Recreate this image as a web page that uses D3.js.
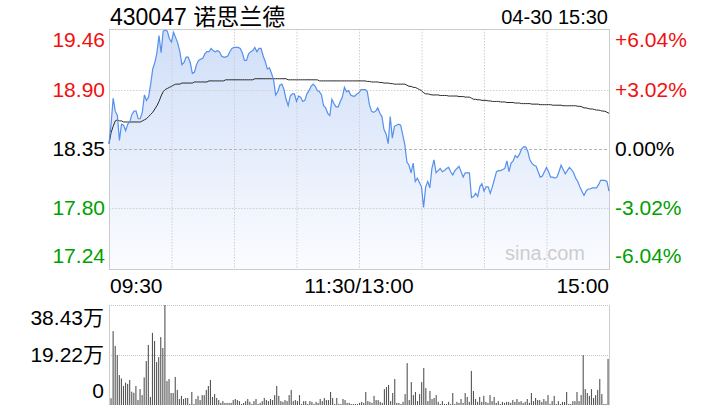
<!DOCTYPE html>
<html><head><meta charset="utf-8">
<script src="https://cdn.jsdelivr.net/npm/d3@7"></script>
<style>
body{margin:0;background:#fff}
svg{display:block}
text{font-family:"Liberation Sans",Arial,"Noto Sans CJK SC",sans-serif}
</style>
</head><body>
<svg id="c" width="720" height="420"></svg>
<script>
const title = "430047 诺思兰德";
const stamp = "04-30 15:30";
const watermark = "sina.com";
const priceTicks = [19.46, 18.90, 18.35, 17.80, 17.24];
const priceTickLabels = ["19.46", "18.90", "18.35", "17.80", "17.24"];
const pctTickLabels = ["+6.04%", "+3.02%", "0.00%", "-3.02%", "-6.04%"];
const tickColors = ["#f01010", "#f01010", "#000000", "#00a000", "#00a000"];
const timeLabels = ["09:30", "11:30/13:00", "15:00"];
const timeLabelMinutes = [0, 120, 240];
const gridMinutes = [30, 60, 90, 120, 150, 180, 210];
const volTicks = [38.43, 19.22, 0];
const volTickLabels = ["38.43万", "19.22万", "0"];

// minute prices 09:30-11:30 (121 points) and 13:01-15:00 (120 points)
const priceAM = [18.40,18.58,18.82,18.70,18.66,18.43,18.58,18.57,18.52,18.58,
18.60,18.67,18.70,18.70,18.63,18.63,18.69,18.85,18.80,18.83,
18.95,19.09,19.15,19.24,19.40,19.24,19.44,19.45,19.44,19.37,
19.34,19.43,19.38,19.33,19.25,19.13,19.15,19.20,19.20,19.15,
19.05,19.06,19.13,19.17,19.18,19.19,19.23,19.25,19.25,19.28,
19.26,19.25,19.26,19.25,19.21,19.20,19.20,19.21,19.25,19.28,
19.29,19.29,19.29,19.28,19.24,19.17,19.17,19.23,19.25,19.26,
19.29,19.25,19.28,19.28,19.21,19.16,19.09,19.10,19.05,18.99,
18.85,18.88,18.94,18.95,18.90,18.81,18.75,18.84,18.86,18.86,
18.79,18.84,18.83,18.79,18.80,18.86,18.89,18.93,18.95,18.93,
18.89,18.88,18.85,18.75,18.73,18.68,18.66,18.81,18.77,18.74,
18.74,18.79,18.83,18.92,18.88,18.89,18.85,18.84,18.84,18.86,
18.87];
const pricePM = [18.90,18.90,18.90,18.88,18.76,18.70,18.69,18.70,18.73,18.68,
18.65,18.53,18.49,18.40,18.65,18.45,18.56,18.57,18.58,18.57,
18.48,18.39,18.23,18.20,18.13,18.22,18.05,18.08,18.04,18.00,
17.81,18.00,18.05,17.99,18.17,18.25,18.13,18.15,18.17,18.14,
18.15,18.17,18.18,18.14,18.11,18.15,18.17,18.19,18.14,18.09,
18.13,18.13,18.13,17.90,17.91,17.94,17.91,18.00,18.03,17.96,
18.00,18.00,17.94,18.00,18.07,18.14,18.15,18.15,18.16,18.17,
18.24,18.14,18.22,18.24,18.29,18.27,18.30,18.35,18.37,18.37,
18.33,18.25,18.22,18.20,18.19,18.14,18.09,18.10,18.14,18.18,
18.14,18.09,18.09,18.08,18.09,18.14,18.20,18.16,18.12,18.15,
18.18,18.16,18.13,18.08,18.05,18.00,17.96,17.92,17.96,17.98,
17.98,17.99,17.99,17.99,18.02,18.06,18.06,18.06,18.05,17.96];

// average price line
const avgAM = [18.40,18.50,18.56,18.61,18.62,18.61,18.61,18.60,18.60,18.60,
18.60,18.60,18.60,18.60,18.60,18.60,18.61,18.62,18.63,18.65,
18.67,18.69,18.72,18.75,18.79,18.84,18.88,18.90,18.91,18.92,
18.93,18.94,18.95,18.95,18.95,18.96,18.96,18.96,18.96,18.96,
18.96,18.97,18.97,18.97,18.97,18.97,18.97,18.97,18.98,18.98,
18.98,18.98,18.98,18.98,18.98,18.98,18.99,18.99,18.99,18.99,
18.99,18.99,18.99,18.99,18.99,18.99,18.99,18.99,18.99,18.99,
19.00,19.00,19.00,19.00,19.00,19.00,19.00,19.00,19.00,19.00,
19.00,19.00,19.00,19.00,19.00,19.00,18.99,18.99,18.99,18.99,
18.99,18.99,18.99,18.99,18.99,18.99,18.99,18.99,18.99,18.99,
18.99,18.98,18.98,18.98,18.98,18.98,18.98,18.98,18.98,18.98,
18.98,18.98,18.98,18.98,18.98,18.98,18.98,18.98,18.98,18.98,
18.98];
const avgPM = [18.98,18.98,18.98,18.975,18.975,18.97,18.97,18.97,
18.97,18.965,18.965,18.96,18.96,18.96,18.955,
18.955,18.95,18.95,18.95,18.95,18.95,18.95,
18.94,18.93,18.93,18.92,18.92,18.91,18.90,18.89,18.87,18.86,18.86,18.855,
18.85,18.85,18.85,18.85,18.845,18.845,18.845,18.845,18.84,18.84,
18.84,18.84,18.84,18.835,18.835,18.835,18.83,18.83,18.83,
18.82,18.81,
18.81,18.805,18.805,18.80,18.80,18.80,18.795,18.795,
18.79,18.79,18.79,18.79,18.785,18.785,18.785,18.78,18.78,18.78,18.78,18.775,18.775,18.775,18.77,
18.77,18.77,18.77,18.77,18.765,18.765,18.765,18.765,18.76,18.76,18.76,18.76,18.76,18.76,
18.755,18.755,18.755,18.755,18.755,18.75,18.75,18.75,18.75,18.75,18.75,18.75,18.745,18.745,
18.74,18.73,
18.73,18.725,18.72,18.72,18.715,18.71,18.71,18.705,
18.70,18.70,18.69,18.68];

// minute volume, in 万
const volAM = [2.6,28.4,22.7,19.2,11.5,10.2,7.3,8.6,8.1,9.6,
5.1,4.7,7.3,1.9,6.1,3.8,10.6,16.9,23.1,3.1,
27.7,24.6,16.5,18.4,26.1,21.9,38.43,9.2,10.0,4.6,
4.6,10.8,5.8,2.3,3.5,2.3,2.7,2.7,0.4,5.0,
0.4,2.3,3.5,1.9,3.8,3.8,5.8,7.3,9.6,3.1,
4.2,2.7,1.9,0.8,1.5,0.8,0.8,0.8,0.8,
1.9,2.3,1.9,1.5,0.4,0.8,1.5,2.3,1.2,0.4,
1.5,2.3,0.4,0.8,1.5,2.7,1.9,1.5,2.3,1.9,
3.8,7.3,3.5,1.5,1.2,1.9,1.5,3.8,5.8,
1.5,1.9,1.5,3.8,0.4,1.5,1.5,0.4,1.5,1.2,
0.4,1.2,0.8,2.3,1.5,2.7,1.9,1.9,5.0,
2.7,0.4,2.7,0.4,0.4,2.3,1.9,0.8,0.8,0.4,
0.4,0.4,0.4,0.8];
const volPM = [1.2,0.8,5.0,1.5,1.2,0.8,3.5,1.9,1.9,1.2,
0.8,6.1,6.9,7.7,1.5,4.6,10.0,0.8,0.8,0.4,
1.2,4.2,16.1,1.9,8.8,3.8,5.0,1.5,4.2,8.8,
14.2,6.5,1.5,5.4,2.3,2.7,3.8,1.2,0.4,1.5,
0.4,0.4,1.2,0.4,4.6,0.4,1.2,0.8,2.3,0.8,
4.6,3.1,1.2,13.1,5.4,2.3,1.2,3.1,1.2,3.5,
1.2,0.8,3.8,1.5,3.1,0.8,1.5,0.4,1.2,0.8,
1.2,1.2,0.8,1.9,1.2,2.3,1.2,1.5,0.8,1.2,
2.3,0.8,4.6,1.5,2.7,1.9,1.9,1.2,2.3,1.5,
3.8,0.4,1.5,3.5,0.4,1.5,0.4,1.2,1.2,
5.0,0.4,0.4,1.5,1.5,5.0,1.5,3.8,19.2,
6.1,4.6,3.5,6.1,2.7,3.8,5.8,10.0,4.2,0.4,
0.4,17.7];

const prices = priceAM.concat(pricePM);
const avgs = avgAM.concat(avgPM);
const vols = volAM.concat(volPM);
const series = prices.map((p, i) => ({i, p, a: avgs[i], v: vols[i]}));

const svg = d3.select("#c");
const L = 109, R = 609, T = 29, B = 269, VT = 305, VB = 405;
const x = d3.scaleLinear().domain([0, 240]).range([L, R]);
const xv = d3.scaleLinear().domain([0, 240]).range([111, 608]);
const y = d3.scaleLinear().domain([17.24, 19.46]).range([B, T]);
const yv = d3.scaleLinear().domain([0, 38.43]).range([VB, VT]);

const defs = svg.append("defs");
const g = defs.append("linearGradient").attr("id", "fillg")
  .attr("gradientUnits", "userSpaceOnUse").attr("x1", 0).attr("x2", 0).attr("y1", T).attr("y2", B);
g.append("stop").attr("offset", "0%").attr("stop-color", "#cfdef8");
g.append("stop").attr("offset", "100%").attr("stop-color", "#fbfcff");

// area fill
svg.append("path").datum(series)
  .attr("d", d3.area().x(d => x(d.i)).y0(B).y1(d => y(d.p)))
  .attr("fill", "url(#fillg)");

// grid
svg.append("g").selectAll("line").data(gridMinutes).join("line")
  .attr("x1", d => x(d) + 0.5).attr("x2", d => x(d) + 0.5).attr("y1", T).attr("y2", B)
  .attr("stroke", "#cfcfcf").attr("stroke-dasharray", "1.5,1.5");
svg.append("g").selectAll("line").data(priceTicks.filter((d, i) => i > 0 && i < priceTicks.length - 1)).join("line")
  .attr("x1", L).attr("x2", R).attr("y1", d => Math.round(y(d)) + 0.5).attr("y2", d => Math.round(y(d)) + 0.5)
  .attr("stroke", d => d === 18.35 ? "#b4b4b4" : "#cfcfcf")
  .attr("stroke-dasharray", d => d === 18.35 ? "3,2" : "1.5,1.5");

// frame
svg.append("rect").attr("x", L + 0.5).attr("y", T + 0.5).attr("width", R - L).attr("height", B - T)
  .attr("fill", "none").attr("stroke", "#cccccc");

// watermark
svg.append("text").attr("x", 585).attr("y", 260).attr("text-anchor", "end")
  .attr("font-size", 20).attr("fill", "#cdcdcd").text(watermark);

// average line
svg.append("path").datum(series)
  .attr("d", d3.line().x(d => x(d.i)).y(d => y(d.a)))
  .attr("fill", "none").attr("stroke", "#2a2a2a").attr("stroke-width", 1);

// price line
svg.append("path").datum(series)
  .attr("d", d3.line().x(d => x(d.i)).y(d => y(d.p)))
  .attr("fill", "none").attr("stroke", "#5590ec").attr("stroke-width", 1.2);

// left & right labels
const clampY = v => Math.max(T + 18, Math.min(B - 6, y(v) + 7));
svg.append("g").selectAll("text").data(priceTicks).join("text")
  .attr("x", 105).attr("y", d => clampY(d)).attr("text-anchor", "end")
  .attr("font-size", 21).attr("fill", (d, i) => tickColors[i]).text((d, i) => priceTickLabels[i]);
svg.append("g").selectAll("text").data(priceTicks).join("text")
  .attr("x", 615).attr("y", d => clampY(d)).attr("text-anchor", "start")
  .attr("font-size", 21).attr("fill", (d, i) => tickColors[i]).text((d, i) => pctTickLabels[i]);

// title
svg.append("text").attr("x", 110).attr("y", 25).attr("font-size", 23).attr("fill", "#000").text(title);
svg.append("text").attr("x", 608).attr("y", 24).attr("text-anchor", "end").attr("font-size", 20).attr("fill", "#000").text(stamp);

// time labels
svg.append("g").selectAll("text").data(timeLabelMinutes).join("text")
  .attr("x", (d, i) => i === 0 ? x(d) + 1 : (i === timeLabels.length - 1 ? x(d) : x(d)))
  .attr("y", 293)
  .attr("text-anchor", (d, i) => i === 0 ? "start" : (i === timeLabels.length - 1 ? "end" : "middle"))
  .attr("font-size", 21).attr("fill", "#000").text((d, i) => timeLabels[i]);

// volume panel
svg.append("g").selectAll("line").data(volTicks.filter(d => d > 0)).join("line")
  .attr("x1", L).attr("x2", R).attr("y1", d => Math.round(yv(d)) + 0.5).attr("y2", d => Math.round(yv(d)) + 0.5)
  .attr("stroke", "#c4c4c4").attr("stroke-dasharray", "1,1");
svg.append("line").attr("x1", L + 0.5).attr("x2", L + 0.5).attr("y1", VT).attr("y2", VB).attr("stroke", "#cccccc");
svg.append("line").attr("x1", R + 0.5).attr("x2", R + 0.5).attr("y1", VT).attr("y2", VB).attr("stroke", "#cccccc");
svg.append("g").selectAll("rect").data(series).join("rect")
  .attr("x", d => xv(d.i) - 0.5).attr("width", 1.1)
  .attr("y", d => yv(d.v)).attr("height", d => VB - yv(d.v))
  .attr("fill", "#555555");

const clampV = v => Math.max(VT + 20, Math.min(VB - 7, yv(v) + 7));
svg.append("g").selectAll("text").data(volTicks).join("text")
  .attr("x", 104).attr("y", d => clampV(d)).attr("text-anchor", "end")
  .attr("font-size", 21).attr("fill", "#000").text((d, i) => volTickLabels[i]);
</script>
</body></html>
